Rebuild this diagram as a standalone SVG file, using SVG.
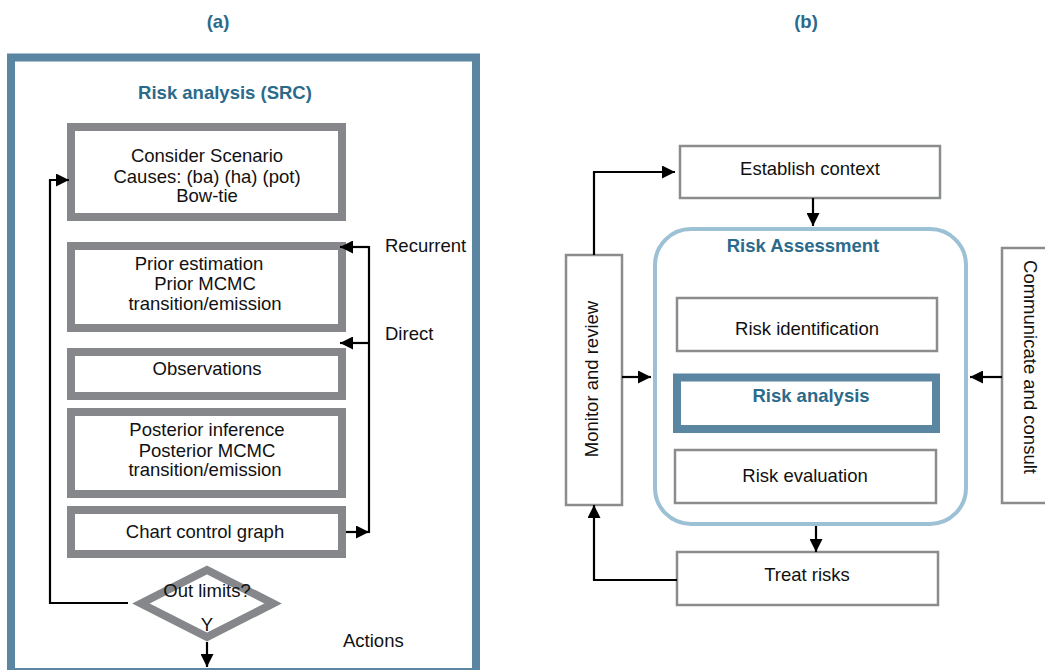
<svg xmlns="http://www.w3.org/2000/svg" width="1045" height="670" viewBox="0 0 1045 670">
  <style>
    text { font-family: "Liberation Sans", Arial, sans-serif; font-size: 18.5px; fill: #111; }
    .title { font-weight: bold; fill: #2b6a8a; }
    .mid { text-anchor: middle; }
    .thick { fill: #fff; stroke: #85878a; stroke-width: 8; }
    .thin { fill: #fff; stroke: #8a8c8e; stroke-width: 2.5; }
    .conn { fill: none; stroke: #000; stroke-width: 2.2; }
  </style>
  <defs>
    <marker id="ah" viewBox="0 0 10 10" refX="10" refY="5" markerWidth="15" markerHeight="13" markerUnits="userSpaceOnUse" orient="auto">
      <path d="M0,0 L10,5 L0,10 z" fill="#000"/>
    </marker>
  </defs>

  <rect width="1045" height="670" fill="#fff"/>

  <!-- panel captions -->
  <text class="title mid" x="218" y="28">(a)</text>
  <text class="title mid" x="806" y="28">(b)</text>

  <!-- ===== Panel (a): SRC risk analysis loop ===== -->
  <g id="src-frame">
    <rect x="11" y="57.5" width="465" height="614.5" fill="#fff" stroke="#5b86a1" stroke-width="8"/>
    <text class="title mid" x="225" y="99">Risk analysis (SRC)</text>
  </g>

  <g id="scenario">
    <rect class="thick" x="71" y="127" width="271" height="90"/>
    <text class="mid" x="207" y="162">Consider Scenario</text>
    <text class="mid" x="207" y="183">Causes: (ba) (ha) (pot)</text>
    <text class="mid" x="207" y="202">Bow-tie</text>
  </g>

  <g id="prior">
    <rect class="thick" x="71" y="246" width="271" height="82"/>
    <text class="mid" x="199" y="270">Prior estimation</text>
    <text class="mid" x="205" y="290">Prior MCMC</text>
    <text class="mid" x="205" y="310">transition/emission</text>
  </g>

  <g id="observations">
    <rect class="thick" x="71" y="352" width="271" height="44"/>
    <text class="mid" x="207" y="375">Observations</text>
  </g>

  <g id="posterior">
    <rect class="thick" x="71" y="412" width="271" height="82"/>
    <text class="mid" x="207" y="436">Posterior inference</text>
    <text class="mid" x="207" y="457">Posterior MCMC</text>
    <text class="mid" x="205" y="476">transition/emission</text>
  </g>

  <g id="chart">
    <rect class="thick" x="71" y="510" width="271" height="44"/>
    <text class="mid" x="205" y="538">Chart control graph</text>
  </g>

  <g id="decision">
    <polygon points="207,570 273,603.5 207,637 141,603.5" fill="#fff" stroke="#85878a" stroke-width="8" stroke-linejoin="miter"/>
    <text class="mid" x="207" y="597">Out limits?</text>
    <text class="mid" x="207" y="631">Y</text>
  </g>

  <g id="labels-a">
    <text x="385" y="252">Recurrent</text>
    <text x="385" y="340">Direct</text>
    <text x="343" y="647">Actions</text>
  </g>

  <g id="connectors-a">
    <!-- not within limits: back to the scenario -->
    <polyline class="conn" points="128,603 50,603 50,180 69,180" marker-end="url(#ah)"/>
    <!-- chart output into the feedback rail -->
    <line class="conn" x1="346" y1="532" x2="369" y2="532" marker-end="url(#ah)"/>
    <line class="conn" x1="369" y1="246" x2="369" y2="533"/>
    <!-- recurrent and direct returns -->
    <polyline class="conn" points="369,247 340,247" marker-end="url(#ah)"/>
    <polyline class="conn" points="369,343 340,343" marker-end="url(#ah)"/>
    <!-- limits exceeded: actions -->
    <line class="conn" x1="207" y1="642" x2="207" y2="667" marker-end="url(#ah)"/>
  </g>

  <!-- ===== Panel (b): risk management process ===== -->
  <g id="establish-context">
    <rect class="thin" x="680" y="146" width="260" height="52"/>
    <text class="mid" x="810" y="175">Establish context</text>
  </g>

  <g id="risk-assessment">
    <rect x="655" y="229" width="311" height="295" rx="36" fill="#fff" stroke="#9cc0d4" stroke-width="4"/>
    <text class="title mid" x="803" y="252">Risk Assessment</text>
  </g>

  <g id="risk-identification">
    <rect class="thin" x="677" y="298" width="260" height="53"/>
    <text class="mid" x="807" y="335">Risk identification</text>
  </g>

  <g id="risk-analysis">
    <rect x="677" y="377.5" width="259" height="51.5" fill="#fff" stroke="#5b86a1" stroke-width="8"/>
    <text class="title mid" x="811" y="402">Risk analysis</text>
  </g>

  <g id="risk-evaluation">
    <rect class="thin" x="675" y="450" width="261" height="53"/>
    <text class="mid" x="805" y="482">Risk evaluation</text>
  </g>

  <g id="treat-risks">
    <rect class="thin" x="677" y="552" width="261" height="53"/>
    <text class="mid" x="807" y="581">Treat risks</text>
  </g>

  <g id="monitor-review">
    <rect class="thin" x="566" y="255" width="56" height="250"/>
    <text class="mid" transform="translate(598,379) rotate(-90)">Monitor and review</text>
  </g>

  <g id="communicate-consult">
    <rect class="thin" x="1002" y="248" width="50" height="255"/>
    <text class="mid" transform="translate(1024,367) rotate(90)">Communicate and consult</text>
  </g>

  <g id="connectors-b">
    <line class="conn" x1="813" y1="198" x2="813" y2="226" marker-end="url(#ah)"/>
    <line class="conn" x1="816" y1="526" x2="816" y2="552" marker-end="url(#ah)"/>
    <polyline class="conn" points="677,580 594,580 594,505" marker-end="url(#ah)"/>
    <polyline class="conn" points="594,255 594,172 675,172" marker-end="url(#ah)"/>
    <line class="conn" x1="622" y1="377" x2="651" y2="377" marker-end="url(#ah)"/>
    <line class="conn" x1="1002" y1="377" x2="970" y2="377" marker-end="url(#ah)"/>
  </g>
</svg>
